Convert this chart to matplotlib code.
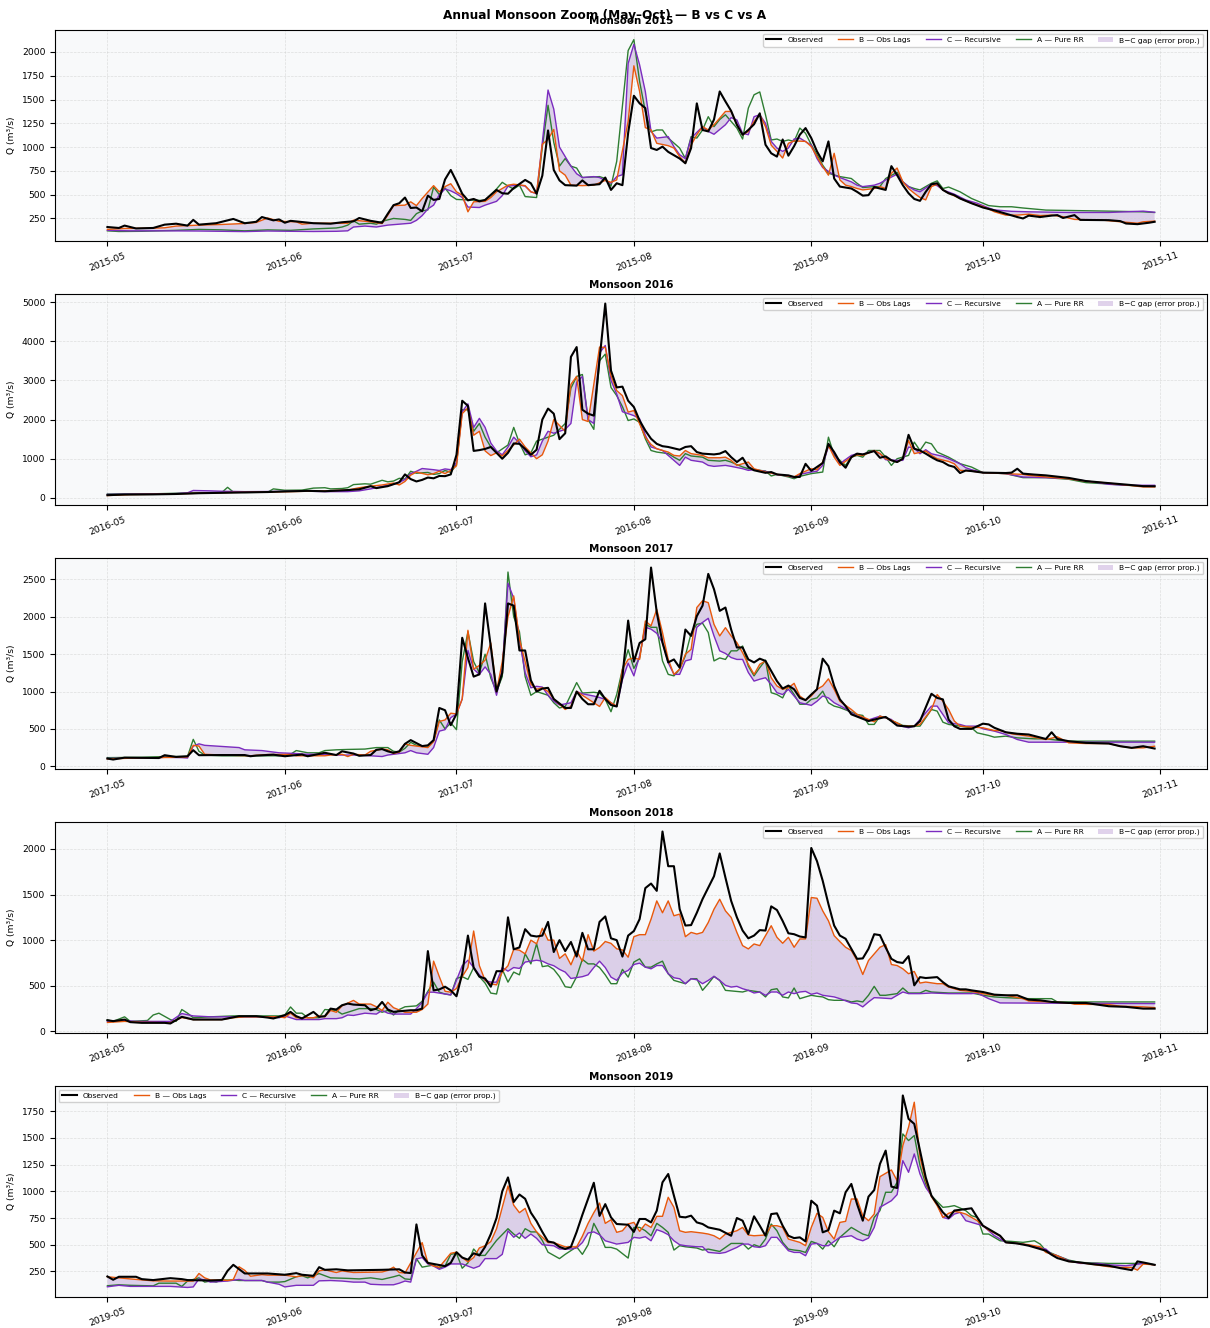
import numpy as np
import matplotlib
matplotlib.use('Agg')
import matplotlib.pyplot as plt
import matplotlib.dates as mdates

YEARS = [2015, 2016, 2017, 2018, 2019]

# values: (day since 1 May, Q in m3/s)
obs_2015 = [(0,160),(2,150),(3,175),(5,145),(8,150),(10,185),(12,195),(14,175),(15,235),(16,185),(19,200),(22,245),(24,200),(26,215),(27,265),(29,230),(30,240),(31,205),(32,225),(36,200),(39,195),(41,210),(43,220),(44,255),(46,225),(48,205),(49,300),(50,390),(51,410),(52,470),(53,360),(54,365),(55,325),(56,490),(57,445),(58,455),(59,660),(60,760),(61,640),(62,510),(63,440),(64,455),(65,430),(66,445),(68,550),(69,515),(70,510),(71,570),(73,655),(74,620),(75,510),(76,700),(77,1175),(78,760),(79,650),(80,600),(82,595),(83,650),(84,600),(86,610),(87,680),(88,550),(89,620),(90,600),(91,1150),(92,1540),(93,1460),(94,1410),(95,990),(96,970),(97,1005),(98,950),(100,880),(101,830),(102,990),(103,1460),(104,1180),(105,1165),(106,1290),(107,1585),(108,1480),(109,1380),(110,1235),(111,1130),(112,1180),(113,1240),(114,1355),(115,1025),(116,935),(117,900),(118,1080),(119,910),(120,1010),(121,1130),(122,1200),(123,1095),(124,955),(125,850),(126,1060),(127,670),(128,585),(130,565),(131,530),(132,490),(133,495),(134,580),(136,550),(137,800),(138,705),(139,600),(140,515),(141,455),(142,435),(143,530),(144,610),(145,620),(146,550),(147,515),(148,495),(149,460),(151,410),(153,365),(155,335),(157,300),(159,265),(160,250),(161,280),(163,265),(165,280),(166,285),(167,255),(169,285),(170,235),(175,232),(177,222),(178,197),(180,190),(182,205),(183,215)]
b_2015 = [(0,135),(3,145),(8,148),(10,152),(12,170),(16,180),(20,187),(24,197),(26,208),(28,255),(30,220),(33,215),(34,190),(36,200),(42,200),(43,232),(46,215),(48,197),(49,285),(50,385),(52,390),(53,425),(54,385),(55,460),(57,595),(58,530),(59,585),(60,615),(61,530),(62,495),(63,320),(64,425),(66,430),(67,470),(68,530),(70,600),(71,610),(73,595),(74,530),(75,515),(76,1030),(77,1080),(78,1185),(79,750),(80,705),(81,600),(83,595),(85,600),(87,650),(88,630),(89,655),(91,1270),(92,1855),(93,1585),(94,1205),(95,1180),(96,1040),(98,1015),(99,990),(100,900),(101,830),(102,1020),(103,1130),(104,1215),(105,1180),(106,1235),(108,1375),(109,1375),(110,1235),(111,1130),(112,1165),(113,1270),(114,1340),(115,1215),(116,1020),(117,955),(118,885),(119,1040),(120,1065),(122,1060),(123,1005),(124,900),(125,795),(126,705),(127,935),(128,655),(129,600),(130,585),(131,565),(132,550),(134,565),(135,585),(136,565),(137,725),(138,780),(139,635),(140,565),(141,515),(142,470),(143,445),(144,585),(145,610),(146,550),(147,515),(149,460),(151,410),(153,375),(154,350),(155,320),(157,285),(159,285),(161,295),(163,280),(165,285),(167,268),(169,240),(174,232),(177,215),(180,200),(181,215),(183,222)]
c_2015 = [(0,125),(4,120),(10,120),(16,118),(20,115),(24,112),(28,118),(32,115),(36,113),(40,115),(42,120),(43,160),(45,170),(47,160),(49,180),(51,190),(53,200),(54,230),(55,280),(56,350),(57,390),(58,500),(59,560),(60,540),(61,510),(62,470),(63,370),(65,365),(66,390),(68,430),(69,490),(70,590),(72,600),(73,590),(74,530),(75,510),(76,1050),(77,1600),(78,1400),(79,1000),(80,900),(81,800),(82,720),(83,680),(85,690),(86,680),(88,620),(89,690),(90,710),(91,1880),(92,2080),(93,1865),(94,1585),(95,1165),(96,1095),(98,1110),(99,1005),(100,920),(101,880),(102,1095),(104,1215),(105,1165),(106,1135),(108,1235),(109,1310),(110,1285),(111,1145),(112,1130),(113,1320),(114,1340),(115,1250),(116,1060),(117,990),(118,955),(119,990),(120,1085),(121,1095),(123,1020),(124,880),(125,785),(127,705),(128,680),(130,635),(131,600),(132,585),(134,600),(135,620),(136,655),(138,715),(139,635),(140,585),(141,550),(142,530),(144,610),(145,595),(146,550),(148,505),(150,445),(152,410),(153,385),(154,360),(155,340),(158,325),(161,320),(168,313),(175,313),(181,327),(183,315)]
a_2015 = [(0,120),(2,113),(6,115),(12,125),(16,135),(20,130),(24,120),(28,130),(32,125),(36,140),(40,150),(41,160),(42,180),(43,225),(44,190),(46,200),(47,190),(48,220),(50,250),(52,240),(53,230),(54,300),(55,330),(56,340),(57,580),(58,500),(59,570),(60,490),(61,450),(63,445),(65,440),(66,440),(67,500),(68,560),(69,630),(70,590),(71,560),(72,600),(73,480),(75,470),(76,1000),(77,1440),(78,1050),(79,800),(80,880),(81,800),(82,780),(83,680),(86,690),(87,670),(88,590),(89,850),(91,2015),(92,2130),(93,1690),(94,1375),(95,1160),(96,1180),(97,1180),(98,1095),(100,990),(101,880),(102,1110),(103,1095),(104,1180),(105,1320),(106,1215),(107,1290),(108,1340),(110,1200),(111,1085),(112,1410),(113,1550),(114,1580),(115,1340),(116,1075),(117,1085),(118,1060),(119,1075),(120,1060),(121,1200),(122,1145),(123,1025),(124,920),(125,810),(126,725),(128,690),(130,670),(131,620),(132,575),(134,585),(135,585),(136,670),(138,735),(139,635),(140,585),(141,565),(142,550),(144,620),(145,645),(146,565),(147,580),(149,530),(151,460),(153,410),(154,385),(156,373),(158,373),(160,360),(164,338),(168,334),(175,327),(181,320),(183,313)]

obs_2016 = [(0,70),(3,85),(8,90),(12,100),(16,120),(20,130),(24,140),(28,150),(31,165),(35,180),(38,170),(42,200),(44,220),(46,300),(47,250),(49,300),(50,350),(51,400),(52,600),(53,480),(54,420),(55,460),(56,520),(57,500),(58,560),(59,555),(60,600),(61,1100),(62,2480),(63,2350),(64,1200),(65,1220),(66,1250),(67,1300),(68,1150),(69,1000),(70,1150),(71,1390),(72,1380),(73,1250),(74,1100),(75,1230),(76,2000),(77,2280),(78,2150),(79,1500),(80,1650),(81,3600),(82,3850),(83,2250),(84,2150),(85,2100),(87,4960),(88,3250),(89,2820),(90,2840),(91,2480),(92,2320),(93,1975),(94,1720),(95,1510),(96,1380),(97,1320),(98,1300),(100,1230),(101,1300),(102,1320),(103,1170),(104,1130),(106,1110),(107,1130),(108,1195),(109,1040),(110,915),(111,1025),(112,790),(113,705),(115,640),(116,660),(117,600),(119,575),(120,535),(121,535),(122,870),(123,690),(124,790),(125,890),(126,1380),(127,1170),(128,915),(129,770),(130,1040),(131,1130),(132,1110),(134,1195),(135,1025),(136,1060),(137,960),(138,915),(139,1000),(140,1610),(141,1255),(142,1210),(143,1130),(144,1040),(145,960),(146,915),(147,830),(148,790),(149,635),(150,700),(151,685),(153,645),(157,635),(158,645),(159,745),(160,620),(162,595),(164,575),(168,510),(171,430),(174,390),(178,340),(181,300),(183,297)]
b_2016 = [(0,60),(4,85),(10,95),(16,120),(22,140),(28,150),(32,160),(38,180),(42,200),(44,260),(46,300),(48,330),(50,380),(51,330),(52,420),(53,580),(54,660),(56,590),(57,620),(58,680),(59,620),(60,700),(61,820),(62,2150),(63,2300),(64,1600),(65,1700),(66,1200),(67,1080),(68,1150),(69,1070),(71,1350),(72,1500),(73,1300),(74,1150),(75,1000),(76,1100),(77,1450),(78,2000),(79,1850),(80,1700),(81,2900),(82,3100),(83,2000),(84,1950),(86,3850),(87,3840),(88,3120),(89,2740),(90,2610),(91,2190),(92,2230),(93,1890),(94,1550),(95,1365),(96,1255),(98,1170),(99,1085),(100,1070),(101,1210),(102,1130),(104,1085),(105,1025),(107,1025),(108,1040),(109,960),(110,830),(112,915),(113,745),(115,660),(116,635),(117,600),(119,560),(120,535),(121,620),(123,745),(124,720),(125,915),(126,1340),(127,1040),(128,830),(130,1040),(131,1100),(132,1085),(134,1210),(135,1130),(136,1000),(138,915),(139,1000),(140,1465),(141,1130),(143,1195),(144,1085),(145,1000),(147,930),(148,870),(149,705),(151,685),(153,645),(157,620),(160,600),(161,575),(164,535),(168,490),(171,425),(174,390),(178,330),(181,280),(183,280)]
c_2016 = [(0,90),(6,100),(12,110),(14,130),(15,190),(18,180),(20,170),(24,160),(30,165),(34,175),(38,160),(42,160),(44,180),(46,230),(48,290),(50,350),(51,400),(52,470),(53,620),(54,680),(55,750),(57,720),(58,700),(59,740),(60,720),(61,900),(62,2200),(63,2400),(64,1800),(65,2030),(66,1800),(67,1400),(68,1200),(69,1100),(70,1300),(71,1550),(72,1400),(73,1200),(74,1050),(75,1100),(76,1450),(77,1700),(78,1650),(79,1700),(80,1750),(81,1900),(82,2950),(83,3100),(84,2000),(85,1900),(86,3700),(87,3890),(88,3000),(89,2650),(90,2200),(91,2150),(92,2100),(93,2020),(94,1600),(95,1300),(97,1210),(98,1085),(100,830),(101,1040),(102,960),(104,915),(105,830),(106,805),(108,830),(109,805),(111,746),(112,703),(113,720),(115,678),(116,636),(117,593),(119,560),(120,517),(121,600),(123,660),(124,680),(125,830),(126,1320),(127,1130),(128,873),(130,1085),(131,1127),(132,1110),(134,1210),(135,1127),(136,975),(138,958),(139,958),(140,1297),(141,1271),(142,1127),(143,1230),(144,1127),(146,1060),(147,1000),(149,873),(150,770),(151,720),(153,645),(157,620),(160,534),(164,517),(168,492),(171,432),(175,347),(178,322),(183,322)]
a_2016 = [(0,100),(8,105),(14,125),(18,135),(20,140),(21,270),(22,150),(24,140),(28,145),(29,230),(31,195),(34,200),(36,250),(38,260),(39,230),(41,240),(42,260),(43,340),(45,360),(46,350),(48,450),(49,410),(50,430),(51,500),(52,480),(53,680),(54,630),(56,650),(57,600),(58,620),(59,700),(60,650),(61,850),(62,2250),(63,2250),(64,1700),(65,1900),(66,1550),(67,1300),(68,1150),(70,1350),(71,1800),(72,1400),(73,1100),(74,1150),(75,1450),(77,1550),(78,1600),(80,1900),(81,2800),(82,3100),(83,3150),(84,2000),(85,1750),(86,3500),(87,3670),(88,2820),(89,2610),(90,2330),(91,1975),(92,2015),(93,1930),(94,1510),(95,1210),(96,1170),(98,1130),(99,1040),(100,960),(101,1130),(102,1070),(104,1040),(105,960),(107,940),(108,960),(109,915),(111,790),(112,745),(113,720),(115,686),(116,560),(117,600),(119,535),(120,490),(121,550),(123,620),(125,660),(126,1550),(127,1085),(129,830),(130,1040),(131,1085),(132,1040),(133,1210),(135,1210),(136,1040),(137,830),(138,1000),(140,1085),(141,1424),(142,1212),(143,1424),(144,1380),(145,1170),(147,1040),(148,958),(149,873),(151,788),(153,644),(157,619),(160,517),(164,517),(168,475),(171,390),(174,364),(178,322),(183,297)]

obs_2017 = [(0,103),(1,90),(3,115),(6,112),(9,110),(10,148),(12,125),(14,134),(15,215),(16,148),(20,150),(24,150),(25,134),(26,143),(29,155),(31,134),(34,157),(35,134),(38,180),(40,150),(41,200),(43,170),(44,140),(46,150),(47,220),(48,230),(49,200),(50,180),(51,200),(52,300),(53,350),(54,310),(55,270),(56,280),(57,350),(58,780),(59,750),(60,550),(61,700),(62,1720),(63,1450),(64,1200),(65,1230),(66,2180),(67,1600),(68,1000),(69,1250),(70,2180),(71,2150),(72,1550),(73,1550),(74,1150),(75,1000),(76,1040),(77,1050),(78,900),(80,780),(81,780),(82,1000),(83,900),(84,830),(85,830),(86,1010),(87,900),(88,820),(89,800),(90,1200),(91,1950),(92,1400),(93,1650),(94,1700),(95,2660),(96,2060),(97,1655),(98,1390),(99,1430),(100,1320),(101,1830),(102,1745),(103,2010),(104,2150),(105,2575),(106,2370),(107,2080),(108,2125),(109,1830),(110,1590),(111,1590),(112,1430),(113,1390),(114,1440),(115,1410),(116,1275),(117,1140),(118,1040),(119,1080),(120,1030),(121,915),(122,885),(123,960),(124,1030),(125,1440),(126,1340),(127,1075),(128,895),(129,805),(130,695),(132,635),(133,605),(134,625),(136,660),(137,605),(138,545),(140,530),(141,535),(142,605),(144,970),(145,915),(146,895),(147,625),(148,535),(149,500),(151,500),(152,535),(153,570),(154,560),(155,515),(157,455),(159,435),(161,425),(162,405),(164,365),(165,455),(166,365),(168,335),(171,313),(175,304),(177,268),(179,246),(181,268),(183,237)]
b_2017 = [(0,98),(5,110),(9,115),(12,120),(14,125),(15,280),(16,270),(17,160),(20,150),(25,140),(28,157),(32,157),(33,140),(38,140),(39,150),(41,160),(42,130),(43,160),(45,150),(46,200),(48,230),(49,220),(50,170),(51,190),(52,300),(53,280),(55,260),(56,250),(57,330),(58,600),(59,620),(60,710),(61,700),(62,900),(63,1820),(64,1300),(65,1350),(66,1420),(67,1650),(68,1000),(69,1400),(70,2000),(71,2280),(72,1700),(73,1400),(74,1100),(75,1030),(76,1050),(77,1000),(78,900),(80,760),(81,800),(82,1000),(83,950),(84,900),(86,800),(87,920),(88,850),(89,805),(90,1300),(91,1430),(92,1450),(93,1430),(94,1945),(95,1880),(96,2100),(97,1790),(98,1430),(99,1230),(100,1300),(101,1500),(102,1565),(103,2125),(104,2215),(105,2190),(106,1900),(107,1745),(108,1855),(109,1745),(110,1655),(111,1520),(112,1365),(113,1230),(114,1365),(115,1410),(116,1185),(117,1075),(118,1030),(119,1050),(120,1110),(121,940),(122,885),(123,940),(124,1030),(125,1075),(126,1170),(127,1030),(128,870),(130,760),(131,695),(132,660),(134,595),(135,670),(136,650),(138,580),(139,537),(141,537),(142,560),(144,760),(145,960),(146,870),(147,760),(148,605),(149,537),(151,523),(153,515),(155,478),(156,478),(158,434),(161,403),(164,358),(166,394),(168,313),(171,304),(175,304),(177,268),(179,246),(181,246),(183,268)]
c_2017 = [(0,105),(8,110),(10,120),(13,115),(14,110),(15,270),(16,300),(17,280),(19,270),(21,260),(23,250),(24,220),(27,210),(28,200),(30,180),(33,170),(35,160),(39,160),(40,150),(44,150),(46,140),(48,130),(49,150),(51,170),(52,180),(53,210),(54,180),(55,170),(56,160),(57,250),(58,470),(59,490),(60,650),(61,700),(62,900),(63,1550),(64,1300),(65,1230),(66,1330),(67,1230),(68,950),(69,1300),(70,2450),(71,2250),(72,1700),(73,1250),(74,1050),(75,1070),(76,1060),(77,950),(78,870),(79,820),(81,850),(82,1000),(83,970),(85,940),(86,920),(87,895),(88,850),(89,800),(90,1160),(91,1380),(92,1210),(93,1480),(94,1860),(95,1835),(96,1780),(97,1655),(98,1385),(99,1230),(100,1230),(101,1410),(102,1430),(103,1860),(104,1925),(105,1980),(106,1745),(107,1545),(108,1510),(109,1455),(110,1430),(111,1430),(112,1255),(113,1140),(114,1165),(115,1185),(116,1095),(117,985),(118,960),(119,1030),(120,940),(121,850),(123,815),(124,870),(125,940),(126,915),(127,850),(129,770),(130,715),(131,670),(133,620),(135,670),(137,626),(138,550),(140,515),(141,537),(142,626),(144,805),(145,805),(146,693),(147,581),(149,559),(150,537),(152,537),(153,501),(155,470),(157,425),(159,358),(161,322),(183,322)]
a_2017 = [(0,115),(6,120),(10,130),(14,130),(15,360),(16,200),(17,150),(20,140),(30,140),(32,160),(33,210),(35,180),(37,180),(38,210),(40,220),(42,225),(45,230),(46,240),(47,250),(49,250),(50,200),(51,190),(52,240),(53,320),(54,280),(56,270),(57,340),(58,620),(59,500),(60,580),(61,490),(62,1400),(63,1800),(64,1400),(65,1250),(66,1500),(67,1180),(68,1000),(69,1200),(70,2600),(71,2000),(72,1800),(73,1200),(74,950),(75,1000),(77,950),(78,850),(79,780),(80,800),(82,1120),(83,980),(85,990),(86,980),(87,895),(88,730),(89,960),(90,1300),(91,1560),(92,1310),(93,1450),(94,1900),(95,1860),(96,1860),(97,1410),(98,1230),(99,1210),(100,1300),(101,1480),(102,1780),(103,1900),(104,1915),(105,1790),(106,1410),(107,1450),(108,1430),(109,1545),(110,1545),(111,1610),(112,1340),(113,1210),(114,1320),(115,1420),(116,985),(117,960),(118,915),(119,1075),(120,960),(121,830),(122,830),(123,895),(124,915),(125,1005),(126,850),(127,805),(128,785),(130,725),(131,693),(132,680),(133,560),(134,560),(135,670),(136,650),(138,580),(139,546),(141,537),(142,537),(143,648),(144,760),(145,738),(146,590),(147,560),(149,537),(151,515),(152,447),(154,412),(155,389),(157,403),(159,380),(162,367),(164,367),(166,349),(168,336),(183,336)]

obs_2018 = [(0,123),(1,113),(3,130),(4,102),(6,94),(10,94),(11,87),(13,160),(15,130),(20,130),(23,167),(26,167),(28,152),(29,142),(31,178),(32,214),(33,167),(34,142),(36,214),(37,160),(38,167),(39,250),(40,240),(41,287),(42,305),(43,294),(45,287),(46,232),(47,250),(48,323),(49,240),(50,214),(51,221),(53,232),(54,232),(55,250),(56,880),(57,450),(58,460),(59,490),(60,450),(61,385),(62,632),(63,1050),(64,700),(65,600),(66,580),(67,490),(68,660),(69,660),(70,1250),(71,900),(72,920),(73,1120),(74,1050),(75,1040),(76,1050),(77,1200),(78,870),(79,1000),(80,880),(81,980),(82,820),(83,1080),(84,900),(85,900),(86,1200),(87,1260),(88,1020),(89,1000),(90,820),(91,1050),(92,1100),(93,1230),(94,1570),(95,1620),(96,1540),(97,2190),(98,1810),(99,1810),(100,1340),(101,1160),(102,1165),(103,1300),(104,1450),(105,1575),(106,1700),(107,1950),(108,1685),(109,1430),(110,1250),(111,1105),(112,1020),(113,1050),(114,1110),(115,1105),(116,1370),(117,1330),(118,1210),(119,1075),(120,1065),(121,1040),(122,1030),(123,2010),(124,1865),(125,1650),(126,1395),(127,1160),(128,1050),(129,1015),(130,905),(131,795),(132,800),(133,905),(134,1065),(135,1055),(136,920),(137,795),(138,760),(139,750),(140,825),(141,505),(142,595),(143,585),(145,595),(146,540),(147,494),(149,461),(150,461),(151,450),(153,432),(155,403),(157,396),(159,396),(161,348),(163,341),(165,323),(168,312),(171,312),(175,276),(178,269),(181,250),(183,250)]
b_2018 = [(0,98),(3,110),(6,100),(11,95),(13,152),(15,130),(20,130),(22,150),(24,160),(30,160),(31,150),(32,200),(33,150),(36,150),(37,170),(38,160),(39,230),(40,210),(41,280),(43,340),(44,300),(46,300),(47,270),(48,230),(49,320),(50,260),(52,210),(54,210),(55,240),(56,300),(57,770),(58,600),(59,440),(60,430),(61,470),(62,600),(63,700),(64,1100),(65,720),(66,560),(67,520),(68,510),(69,650),(70,720),(71,900),(72,890),(73,850),(74,1000),(75,960),(76,1130),(77,1000),(78,1000),(79,800),(80,850),(81,730),(82,880),(83,770),(84,1060),(85,880),(86,920),(87,985),(88,965),(89,905),(90,893),(91,813),(92,1038),(93,1060),(94,1060),(95,1230),(96,1430),(97,1300),(98,1430),(99,1267),(100,1285),(101,1038),(102,1085),(103,1067),(104,1085),(105,1194),(106,1339),(107,1448),(108,1321),(109,1249),(110,1085),(111,940),(112,904),(113,958),(114,940),(115,1049),(116,1158),(117,1031),(118,966),(119,1031),(120,922),(121,1013),(122,1013),(123,1467),(124,1459),(125,1321),(126,1212),(127,1049),(128,984),(129,922),(130,886),(131,777),(132,624),(133,777),(134,849),(135,922),(136,951),(137,733),(138,722),(139,686),(140,632),(141,657),(142,530),(143,541),(145,523),(146,523),(147,486),(149,450),(151,439),(153,414),(155,396),(157,396),(160,359),(161,334),(165,323),(168,312),(169,298),(175,294),(177,276),(181,269),(183,261)]
c_2018 = [(0,110),(3,120),(5,110),(11,110),(13,196),(15,170),(18,160),(28,160),(30,150),(31,170),(33,130),(37,130),(38,140),(40,140),(41,150),(42,180),(43,175),(45,200),(47,190),(48,230),(49,200),(50,190),(53,190),(54,250),(55,320),(56,430),(57,430),(58,420),(59,410),(60,400),(61,560),(62,720),(63,780),(64,700),(65,620),(66,560),(67,540),(68,540),(69,700),(70,660),(71,700),(72,690),(73,760),(75,780),(76,770),(77,740),(78,720),(79,680),(80,650),(81,580),(83,600),(84,620),(85,700),(86,770),(87,700),(88,595),(89,560),(90,640),(91,668),(92,733),(93,748),(94,704),(95,686),(96,722),(97,722),(98,632),(99,588),(100,577),(101,523),(102,577),(103,566),(104,523),(105,559),(106,603),(107,559),(108,505),(109,486),(110,494),(111,468),(112,450),(113,421),(114,432),(115,396),(116,432),(117,432),(118,396),(119,432),(120,414),(121,432),(122,439),(123,407),(124,421),(125,396),(127,378),(128,359),(130,312),(131,305),(132,269),(133,323),(134,370),(135,367),(137,359),(138,396),(139,432),(140,414),(142,414),(144,421),(147,414),(151,414),(152,421),(154,359),(156,312),(183,305)]
a_2018 = [(0,125),(1,110),(3,160),(4,110),(7,120),(8,180),(9,200),(11,130),(12,110),(13,240),(14,200),(15,150),(18,160),(22,170),(30,170),(31,180),(32,268),(33,200),(34,200),(35,150),(37,150),(38,240),(40,230),(41,190),(43,230),(44,250),(46,250),(47,240),(48,210),(49,230),(50,180),(51,240),(52,270),(54,280),(55,330),(56,440),(57,540),(58,430),(59,410),(60,400),(61,580),(62,600),(63,570),(64,700),(65,600),(66,530),(67,420),(68,410),(69,680),(70,540),(71,650),(72,620),(73,850),(74,740),(75,960),(76,710),(77,720),(78,680),(79,600),(80,490),(81,480),(82,600),(83,790),(84,740),(85,740),(86,700),(87,620),(88,523),(89,523),(90,680),(91,595),(92,760),(93,795),(94,704),(95,704),(96,740),(97,770),(98,632),(99,559),(100,541),(101,523),(102,577),(103,577),(104,450),(105,523),(106,603),(107,559),(108,450),(111,432),(112,450),(114,432),(115,378),(116,457),(117,468),(118,378),(119,367),(120,476),(121,359),(122,378),(123,396),(124,385),(125,378),(126,348),(127,341),(129,341),(130,323),(131,334),(132,323),(133,396),(134,494),(135,396),(136,396),(138,414),(139,476),(140,421),(142,421),(143,450),(144,432),(147,421),(151,421),(153,396),(155,378),(157,370),(161,359),(165,359),(166,323),(183,323)]

obs_2019 = [(0,203),(1,172),(2,200),(5,200),(6,178),(8,169),(11,187),(13,178),(14,169),(18,165),(20,169),(21,256),(22,312),(23,272),(24,231),(28,231),(31,219),(33,234),(34,219),(36,209),(37,290),(38,265),(40,270),(42,260),(45,262),(48,265),(51,270),(52,240),(53,235),(54,690),(55,400),(56,330),(57,320),(58,310),(59,300),(60,330),(61,430),(62,380),(63,360),(64,420),(65,400),(66,480),(67,600),(68,750),(69,1000),(70,1130),(71,900),(72,970),(73,930),(74,800),(75,720),(76,620),(77,530),(78,520),(79,480),(80,460),(81,480),(82,620),(83,780),(85,1080),(86,770),(87,880),(88,756),(89,694),(91,687),(92,620),(93,741),(94,741),(95,709),(96,819),(97,1084),(98,1162),(99,959),(100,762),(101,756),(102,772),(103,709),(104,694),(105,662),(107,640),(109,584),(110,750),(111,725),(112,600),(113,766),(114,678),(115,584),(116,787),(117,794),(118,678),(119,584),(120,562),(121,569),(122,531),(123,912),(124,866),(125,616),(126,637),(127,819),(128,794),(129,991),(130,1069),(131,881),(132,725),(133,950),(134,1012),(135,1256),(136,1381),(137,1044),(138,1031),(139,1897),(140,1678),(141,1631),(142,1381),(143,1131),(144,959),(145,881),(146,803),(147,750),(148,820),(150,834),(151,841),(152,756),(153,678),(154,647),(156,584),(157,522),(159,512),(161,491),(162,475),(164,444),(165,406),(166,375),(168,344),(170,334),(172,319),(175,303),(177,281),(179,262),(180,344),(181,334),(183,312)]
b_2019 = [(0,200),(2,190),(4,180),(8,162),(11,160),(15,160),(16,231),(17,190),(18,170),(20,170),(21,165),(22,175),(23,294),(24,260),(25,205),(27,220),(28,215),(31,215),(33,200),(34,210),(35,210),(36,190),(37,256),(38,265),(40,240),(41,255),(43,240),(48,245),(49,260),(50,290),(51,240),(52,235),(53,330),(55,520),(56,330),(57,300),(58,290),(60,420),(61,430),(62,380),(63,340),(64,380),(65,470),(66,490),(67,530),(68,650),(69,850),(70,1050),(71,870),(72,800),(73,840),(74,700),(75,620),(77,520),(78,520),(79,500),(80,480),(82,480),(83,580),(84,700),(85,800),(86,890),(87,700),(88,734),(89,616),(90,631),(91,694),(92,709),(93,625),(94,694),(95,662),(96,766),(97,766),(98,944),(99,850),(100,631),(101,616),(102,622),(104,609),(105,600),(106,584),(107,553),(108,600),(110,631),(111,662),(112,591),(113,584),(115,591),(116,678),(117,678),(118,662),(119,553),(120,537),(121,522),(122,491),(123,662),(124,794),(125,756),(126,622),(127,553),(128,709),(129,719),(130,928),(131,928),(132,772),(133,725),(134,787),(135,1137),(136,1169),(137,1200),(138,1100),(139,1428),(140,1600),(141,1834),(142,1319),(143,1100),(144,950),(145,866),(146,756),(147,794),(148,812),(149,803),(150,787),(151,756),(152,725),(153,678),(154,637),(156,584),(157,522),(159,512),(161,500),(163,481),(164,428),(166,397),(168,344),(171,325),(175,294),(177,287),(179,287),(180,262),(181,319),(183,312)]
c_2019 = [(0,106),(2,120),(4,110),(11,110),(14,100),(15,105),(16,180),(17,170),(18,150),(21,160),(23,175),(24,165),(27,165),(28,150),(30,130),(31,105),(33,120),(36,120),(37,162),(39,165),(41,160),(43,150),(45,150),(46,130),(48,125),(50,125),(51,140),(52,160),(53,150),(54,366),(55,380),(56,320),(57,300),(58,270),(59,290),(60,320),(62,320),(63,300),(64,280),(65,300),(66,370),(68,370),(69,410),(70,630),(71,570),(72,610),(73,560),(74,600),(75,560),(76,500),(78,490),(79,460),(81,460),(82,470),(83,520),(84,610),(85,620),(86,594),(87,537),(88,522),(89,506),(91,522),(92,569),(93,562),(94,575),(95,537),(96,641),(97,622),(98,594),(99,537),(100,500),(101,491),(103,481),(104,481),(105,428),(107,419),(108,428),(110,475),(111,506),(112,506),(113,481),(114,475),(115,491),(116,569),(117,569),(118,506),(119,444),(120,428),(121,428),(122,397),(123,506),(124,512),(125,491),(126,491),(127,531),(128,569),(130,584),(131,553),(132,537),(133,562),(134,662),(135,850),(136,881),(137,912),(138,969),(139,1287),(140,1178),(141,1350),(142,1162),(143,1037),(145,881),(146,756),(147,741),(148,787),(149,803),(150,725),(151,709),(153,678),(154,631),(155,584),(157,522),(160,506),(162,481),(164,459),(165,412),(166,397),(168,350),(170,325),(173,325),(175,312),(178,303),(181,325),(183,312)]
a_2019 = [(0,116),(2,125),(4,120),(8,115),(9,140),(12,140),(13,110),(14,160),(16,190),(17,150),(18,160),(19,150),(20,170),(22,170),(23,165),(27,165),(28,150),(30,150),(31,155),(33,200),(34,210),(35,190),(37,230),(39,190),(42,185),(44,180),(46,190),(48,175),(50,200),(51,215),(52,180),(53,175),(54,370),(55,290),(56,300),(57,310),(58,280),(59,300),(60,410),(61,420),(62,280),(63,330),(64,460),(65,400),(66,400),(68,540),(70,650),(71,600),(72,560),(73,650),(74,620),(75,620),(76,540),(77,430),(78,400),(79,370),(80,410),(82,480),(83,410),(84,500),(85,700),(86,600),(87,475),(88,475),(89,459),(91,375),(92,662),(93,662),(94,631),(95,584),(96,700),(97,662),(98,616),(99,450),(100,491),(101,481),(103,469),(104,450),(105,459),(107,437),(108,475),(109,512),(111,512),(112,459),(113,500),(114,481),(115,553),(116,694),(117,631),(118,522),(119,459),(120,450),(121,444),(122,428),(123,531),(124,512),(125,459),(126,537),(127,481),(128,569),(130,662),(131,631),(132,600),(133,584),(134,756),(135,819),(136,991),(137,991),(138,1084),(139,1537),(140,1475),(141,1522),(142,1241),(143,1069),(144,959),(146,850),(147,856),(148,866),(149,844),(150,819),(151,772),(152,756),(153,600),(154,600),(156,537),(158,531),(160,522),(162,537),(163,506),(164,444),(166,397),(168,356),(170,334),(175,325),(181,325),(183,312)]

DATA = {
    2015: (obs_2015, b_2015, c_2015, a_2015),
    2016: (obs_2016, b_2016, c_2016, a_2016),
    2017: (obs_2017, b_2017, c_2017, a_2017),
    2018: (obs_2018, b_2018, c_2018, a_2018),
    2019: (obs_2019, b_2019, c_2019, a_2019),
}

C_OBS = 'black'
C_B = '#e8590c'
C_C = '#7b2cbf'
C_A = '#2e7d32'
C_GAP = '#9b6fc0'


def to_xy(pts, year):
    d = np.array([p[0] for p in pts])
    q = np.array([p[1] for p in pts], dtype=float)
    t = np.datetime64(f'{year}-05-01') + d.astype('timedelta64[D]')
    return mdates.date2num(t), q


fig, axes = plt.subplots(5, 1, figsize=(12.1, 13.28), dpi=100)
fig.subplots_adjust(left=0.0455, right=0.9975, top=0.9774, bottom=0.0233, hspace=0.25)

for ax, yr in zip(axes, YEARS):
    obs, b, c, a = DATA[yr]
    xo, yo = to_xy(obs, yr)
    xb, yb = to_xy(b, yr)
    xc, yc = to_xy(c, yr)
    xa, ya = to_xy(a, yr)

    ax.set_facecolor('#f8f9fa')
    # B-C gap as closed polygon (B forward, C back)
    gap = ax.fill(np.concatenate([xb, xc[::-1]]), np.concatenate([yb, yc[::-1]]),
                  color=C_GAP, alpha=0.3, lw=0, label='B\u2212C gap (error prop.)')[0]
    la, = ax.plot(xa, ya, color=C_A, lw=1.0, label='A \u2014 Pure RR')
    lc, = ax.plot(xc, yc, color=C_C, lw=1.0, label='C \u2014 Recursive')
    lb, = ax.plot(xb, yb, color=C_B, lw=1.0, label='B \u2014 Obs Lags')
    lo, = ax.plot(xo, yo, color=C_OBS, lw=1.5, label='Observed')

    ax.xaxis_date()
    ax.xaxis.set_major_locator(mdates.MonthLocator())
    ax.xaxis.set_major_formatter(mdates.DateFormatter('%Y-%m'))
    ax.tick_params(axis='both', labelsize=6.6)
    ax.tick_params(axis='x', rotation=20)
    ax.grid(True, ls='--', lw=0.5, color='#cccccc', alpha=0.6)
    ax.set_ylabel('Q (m\u00b3/s)', fontsize=6.6)
    ax.set_title(f'Monsoon {yr}', fontsize=7.4, fontweight='bold', pad=4)
    loc = 'upper left' if yr == 2019 else 'upper right'
    ax.legend([lo, lb, lc, la, gap],
              ['Observed', 'B \u2014 Obs Lags', 'C \u2014 Recursive', 'A \u2014 Pure RR', 'B\u2212C gap (error prop.)'],
              loc=loc, ncol=5, fontsize=5.4, framealpha=0.9)

fig.suptitle('Annual Monsoon Zoom (May\u2013Oct) \u2014 B vs C vs A', fontsize=8.7,
             fontweight='bold', y=0.9887, va='center')

fig.savefig('out.png', dpi=100)
